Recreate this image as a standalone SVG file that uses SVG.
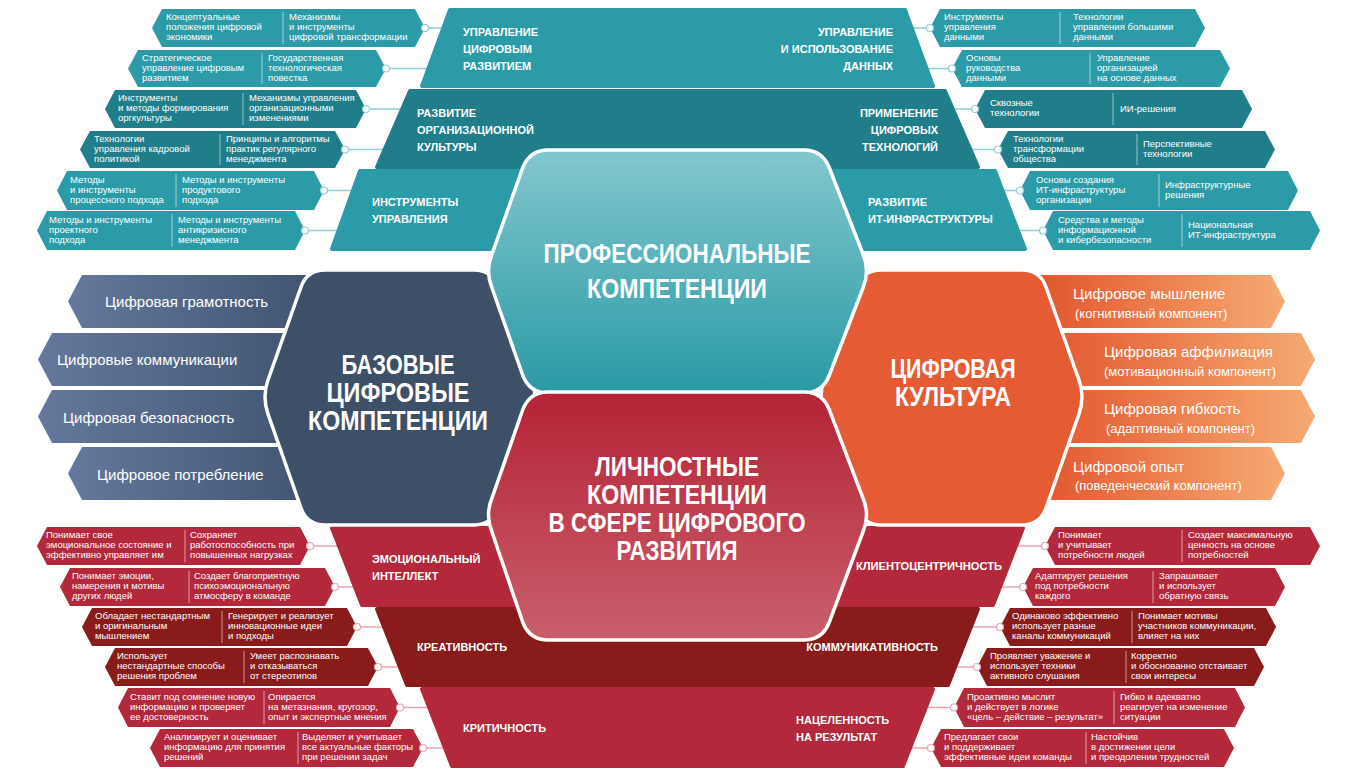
<svg xmlns="http://www.w3.org/2000/svg" width="1360" height="784" viewBox="0 0 1360 784">
<defs>
<linearGradient id="gTop" x1="0" y1="0" x2="0" y2="1"><stop offset="0" stop-color="#82c7ce"/><stop offset="1" stop-color="#2a9aa5"/></linearGradient>
<linearGradient id="gBot" x1="0" y1="0" x2="0" y2="1"><stop offset="0" stop-color="#b42335"/><stop offset="1" stop-color="#c95f6c"/></linearGradient>
<linearGradient id="gL" x1="0" y1="0" x2="1" y2="0"><stop offset="0" stop-color="#64799b"/><stop offset="1" stop-color="#3e5170"/></linearGradient>
<linearGradient id="gR" x1="0" y1="0" x2="1" y2="0"><stop offset="0" stop-color="#e2532b"/><stop offset="1" stop-color="#f6aa72"/></linearGradient>
<style>
.t1{fill:#2b9ba7}.t2{fill:#1f7e8a}.r1{fill:#b3283a}.r2{fill:#8a1b1b}
.dv{stroke:#ffffff;stroke-opacity:.55;stroke-width:1}
.lf{font-family:"Liberation Sans",Arial,sans-serif;font-size:9.5px;fill:#fff}
.cat{font-family:"Liberation Sans",Arial,sans-serif;font-size:11px;font-weight:bold;fill:#fff}
.big{font-family:"Liberation Sans",Arial,sans-serif;font-size:27px;font-weight:bold;fill:#fff;text-anchor:middle}
.side{font-family:"Liberation Sans",Arial,sans-serif;font-size:15px;fill:#fff}
.sub{font-family:"Liberation Sans",Arial,sans-serif;font-size:13px;fill:#fff}
.ct{stroke:#8fcfd5;stroke-width:1.5}.cr{stroke:#eaa3b2;stroke-width:1.5}
.ctc{fill:#fff;stroke:#8fcfd5;stroke-width:1.2}.crc{fill:#fff;stroke:#eaa3b2;stroke-width:1.2}
.bar{stroke-linejoin:round;stroke-width:4}
.hex{stroke:#fff;stroke-width:3.5}
</style>
</defs>
<rect width="1360" height="784" fill="#fff"/>
<g id="connectors">
<line class="ct" x1="425" y1="28" x2="460" y2="28"/><line class="ct" x1="386" y1="68.5" x2="440" y2="68.5"/>
<line class="ct" x1="366" y1="109" x2="420" y2="109"/><line class="ct" x1="345" y1="149.5" x2="400" y2="149.5"/>
<line class="ct" x1="324" y1="190.5" x2="370" y2="190.5"/><line class="ct" x1="305" y1="230.5" x2="355" y2="230.5"/>
<line class="ct" x1="930" y1="28" x2="895" y2="28"/><line class="ct" x1="952" y1="68.5" x2="910" y2="68.5"/>
<line class="ct" x1="975" y1="109" x2="930" y2="109"/><line class="ct" x1="998" y1="149.5" x2="950" y2="149.5"/>
<line class="ct" x1="1020" y1="190.5" x2="975" y2="190.5"/><line class="ct" x1="1043" y1="230.5" x2="1000" y2="230.5"/>
<line class="cr" x1="310" y1="546" x2="350" y2="546"/><line class="cr" x1="335" y1="587" x2="380" y2="587"/>
<line class="cr" x1="357" y1="627" x2="400" y2="627"/><line class="cr" x1="378" y1="667" x2="420" y2="667"/>
<line class="cr" x1="400" y1="707.5" x2="440" y2="707.5"/><line class="cr" x1="423" y1="748" x2="460" y2="748"/>
<line class="cr" x1="1045" y1="546" x2="1010" y2="546"/><line class="cr" x1="1023" y1="587" x2="985" y2="587"/>
<line class="cr" x1="1000" y1="627" x2="960" y2="627"/><line class="cr" x1="977" y1="667" x2="940" y2="667"/>
<line class="cr" x1="954" y1="707.5" x2="915" y2="707.5"/><line class="cr" x1="931" y1="748" x2="895" y2="748"/>
</g>
<g id="bars">
<polygon class="t1 bar" stroke="#2b9ba7" points="450,10 905,10 933,86 422,86"/>
<polygon class="t2 bar" stroke="#1f7e8a" points="410,91 945,91 978,167 377,167"/>
<polygon class="t1 bar" stroke="#2b9ba7" points="360,171 995,171 1025,249 332,249"/>
<polygon class="r1 bar" stroke="#b3283a" points="332,528 1023,528 993,605 362,605"/>
<polygon class="r2 bar" stroke="#8a1b1b" points="377,609 978,609 948,685 407,685"/>
<polygon class="r1 bar" stroke="#b3283a" points="422,689 933,689 903,766 452,766"/>
</g>
<g id="bar-labels">
<text class="cat"><tspan x="463" y="36">УПРАВЛЕНИЕ</tspan><tspan x="463" y="53">ЦИФРОВЫМ</tspan><tspan x="463" y="70">РАЗВИТИЕМ</tspan></text>
<text class="cat" text-anchor="end"><tspan x="893" y="36">УПРАВЛЕНИЕ</tspan><tspan x="893" y="53">И ИСПОЛЬЗОВАНИЕ</tspan><tspan x="893" y="70">ДАННЫХ</tspan></text>
<text class="cat"><tspan x="417" y="117">РАЗВИТИЕ</tspan><tspan x="417" y="134">ОРГАНИЗАЦИОННОЙ</tspan><tspan x="417" y="151">КУЛЬТУРЫ</tspan></text>
<text class="cat" text-anchor="end"><tspan x="938" y="117">ПРИМЕНЕНИЕ</tspan><tspan x="938" y="134">ЦИФРОВЫХ</tspan><tspan x="938" y="151">ТЕХНОЛОГИЙ</tspan></text>
<text class="cat"><tspan x="372" y="206">ИНСТРУМЕНТЫ</tspan><tspan x="372" y="223">УПРАВЛЕНИЯ</tspan></text>
<text class="cat"><tspan x="868" y="206">РАЗВИТИЕ</tspan><tspan x="868" y="223">ИТ-ИНФРАСТРУКТУРЫ</tspan></text>
<text class="cat"><tspan x="372" y="563">ЭМОЦИОНАЛЬНЫЙ</tspan><tspan x="372" y="580">ИНТЕЛЛЕКТ</tspan></text>
<text class="cat" x="856" y="570" textLength="146" lengthAdjust="spacingAndGlyphs">КЛИЕНТОЦЕНТРИЧНОСТЬ</text>
<text class="cat" x="417" y="651">КРЕАТИВНОСТЬ</text>
<text class="cat" x="938" y="651" text-anchor="end">КОММУНИКАТИВНОСТЬ</text>
<text class="cat" x="463" y="732">КРИТИЧНОСТЬ</text>
<text class="cat"><tspan x="796" y="724">НАЦЕЛЕННОСТЬ</tspan><tspan x="796" y="741">НА РЕЗУЛЬТАТ</tspan></text>
</g>
<g id="tl1"><path class="t1" d="M152 28L162 9L415 9L425 28L415 47L162 47Z"/><line class="dv" x1="283" y1="12" x2="283" y2="44"/>
<text class="lf"><tspan x="166" y="20">Концептуальные</tspan><tspan x="166" y="30">положения цифровой</tspan><tspan x="166" y="40">экономики</tspan></text>
<text class="lf"><tspan x="289" y="20">Механизмы</tspan><tspan x="289" y="30">и инструменты</tspan><tspan x="289" y="40">цифровой трансформации</tspan></text></g>
<g id="tl2"><path class="t1" d="M128 68.5L138 50L376 50L386 68.5L376 87L138 87Z"/><line class="dv" x1="262" y1="53" x2="262" y2="84"/>
<text class="lf"><tspan x="142" y="60.5">Стратегическое</tspan><tspan x="142" y="70.5">управление цифровым</tspan><tspan x="142" y="80.5">развитием</tspan></text>
<text class="lf"><tspan x="268" y="60.5">Государственная</tspan><tspan x="268" y="70.5">технологическая</tspan><tspan x="268" y="80.5">повестка</tspan></text></g>
<g id="tl3"><path class="t2" d="M105 109L115 90L356 90L366 109L356 128L115 128Z"/><line class="dv" x1="243" y1="93" x2="243" y2="125"/>
<text class="lf"><tspan x="118" y="101">Инструменты</tspan><tspan x="118" y="111">и методы  формирования</tspan><tspan x="118" y="121">оргкультуры</tspan></text>
<text class="lf"><tspan x="249" y="101">Механизмы управления</tspan><tspan x="249" y="111">организационными</tspan><tspan x="249" y="121">изменениями</tspan></text></g>
<g id="tl4"><path class="t2" d="M80 149.5L90 131L335 131L345 149.5L335 168L90 168Z"/><line class="dv" x1="220" y1="134" x2="220" y2="165"/>
<text class="lf"><tspan x="94" y="141.5">Технологии</tspan><tspan x="94" y="151.5">управления кадровой</tspan><tspan x="94" y="161.5">политикой</tspan></text>
<text class="lf"><tspan x="226" y="141.5">Принципы и алгоритмы</tspan><tspan x="226" y="151.5">практик регулярного</tspan><tspan x="226" y="161.5">менеджмента</tspan></text></g>
<g id="tl5"><path class="t1" d="M57 190.5L67 171L314 171L324 190.5L314 210L67 210Z"/><line class="dv" x1="176" y1="174" x2="176" y2="207"/>
<text class="lf"><tspan x="70" y="182.5">Методы</tspan><tspan x="70" y="192.5">и инструменты</tspan><tspan x="70" y="202.5">процессного подхода</tspan></text>
<text class="lf"><tspan x="182" y="182.5">Методы и инструменты</tspan><tspan x="182" y="192.5">продуктового</tspan><tspan x="182" y="202.5">подхода</tspan></text></g>
<g id="tl6"><path class="t1" d="M37 230.5L47 211L295 211L305 230.5L295 250L47 250Z"/><line class="dv" x1="172" y1="214" x2="172" y2="247"/>
<text class="lf"><tspan x="49" y="222.5">Методы и инструменты</tspan><tspan x="49" y="232.5">проектного</tspan><tspan x="49" y="242.5">подхода</tspan></text>
<text class="lf"><tspan x="178" y="222.5">Методы и инструменты</tspan><tspan x="178" y="232.5">антикризисного</tspan><tspan x="178" y="242.5">менеджмента</tspan></text></g>
<g id="tr1"><path class="t1" d="M930 28L940 9L1195 9L1205 28L1195 47L940 47Z"/><line class="dv" x1="1060" y1="12" x2="1060" y2="44"/>
<text class="lf"><tspan x="944" y="20">Инструменты</tspan><tspan x="944" y="30">управления</tspan><tspan x="944" y="40">данными</tspan></text>
<text class="lf"><tspan x="1073" y="20">Технологии</tspan><tspan x="1073" y="30">управления большими</tspan><tspan x="1073" y="40">данными</tspan></text></g>
<g id="tr2"><path class="t1" d="M952 68.5L962 50L1220 50L1230 68.5L1220 87L962 87Z"/><line class="dv" x1="1090" y1="53" x2="1090" y2="84"/>
<text class="lf"><tspan x="966" y="60.5">Основы</tspan><tspan x="966" y="70.5">руководства</tspan><tspan x="966" y="80.5">данными</tspan></text>
<text class="lf"><tspan x="1097" y="60.5">Управление</tspan><tspan x="1097" y="70.5">организацией</tspan><tspan x="1097" y="80.5">на основе данных</tspan></text></g>
<g id="tr3"><path class="t2" d="M975 109L985 90L1242 90L1252 109L1242 128L985 128Z"/><line class="dv" x1="1113" y1="93" x2="1113" y2="125"/>
<text class="lf"><tspan x="990" y="106">Сквозные</tspan><tspan x="990" y="116">технологии</tspan></text>
<text class="lf" x="1120" y="112">ИИ-решения</text></g>
<g id="tr4"><path class="t2" d="M998 149.5L1008 131L1265 131L1275 149.5L1265 168L1008 168Z"/><line class="dv" x1="1137" y1="134" x2="1137" y2="165"/>
<text class="lf"><tspan x="1013" y="141.5">Технологии</tspan><tspan x="1013" y="151.5">трансформации</tspan><tspan x="1013" y="161.5">общества</tspan></text>
<text class="lf"><tspan x="1143" y="146.5">Перспективные</tspan><tspan x="1143" y="156.5">технологии</tspan></text></g>
<g id="tr5"><path class="t1" d="M1020 190.5L1030 171L1288 171L1298 190.5L1288 210L1030 210Z"/><line class="dv" x1="1159" y1="174" x2="1159" y2="207"/>
<text class="lf"><tspan x="1036" y="182.5">Основы создания</tspan><tspan x="1036" y="192.5">ИТ-инфраструктуры</tspan><tspan x="1036" y="202.5">организации</tspan></text>
<text class="lf"><tspan x="1165" y="187.5">Инфраструктурные</tspan><tspan x="1165" y="197.5">решения</tspan></text></g>
<g id="tr6"><path class="t1" d="M1043 230.5L1053 211L1310 211L1320 230.5L1310 250L1053 250Z"/><line class="dv" x1="1182" y1="214" x2="1182" y2="247"/>
<text class="lf"><tspan x="1058" y="222.5">Средства и методы</tspan><tspan x="1058" y="232.5">информационной</tspan><tspan x="1058" y="242.5">и кибербезопасности</tspan></text>
<text class="lf"><tspan x="1188" y="227.5">Национальная</tspan><tspan x="1188" y="237.5">ИТ-инфраструктура</tspan></text></g>
<g id="bl1"><path class="r1" d="M37 546L47 527L300 527L310 546L300 565L47 565Z"/><line class="dv" x1="185" y1="530" x2="185" y2="562"/>
<text class="lf"><tspan x="46" y="538">Понимает свое</tspan><tspan x="46" y="548">эмоциональное состояние и</tspan><tspan x="46" y="558">эффективно управляет им</tspan></text>
<text class="lf"><tspan x="190" y="538">Сохраняет</tspan><tspan x="190" y="548">работоспособность при</tspan><tspan x="190" y="558">повышенных нагрузках</tspan></text></g>
<g id="bl2"><path class="r1" d="M60 587L70 568L325 568L335 587L325 606L70 606Z"/><line class="dv" x1="189" y1="571" x2="189" y2="603"/>
<text class="lf"><tspan x="72" y="579">Понимает эмоции,</tspan><tspan x="72" y="589">намерения и мотивы</tspan><tspan x="72" y="599">других людей</tspan></text>
<text class="lf"><tspan x="194" y="579">Создает благоприятную</tspan><tspan x="194" y="589">психоэмоциональную</tspan><tspan x="194" y="599">атмосферу в команде</tspan></text></g>
<g id="bl3"><path class="r2" d="M82 627L92 608L347 608L357 627L347 646L92 646Z"/><line class="dv" x1="222" y1="611" x2="222" y2="643"/>
<text class="lf"><tspan x="95" y="619">Обладает нестандартным</tspan><tspan x="95" y="629">и оригинальным</tspan><tspan x="95" y="639">мышлением</tspan></text>
<text class="lf"><tspan x="228" y="619">Генерирует и реализует</tspan><tspan x="228" y="629">инновационные идеи</tspan><tspan x="228" y="639">и подходы</tspan></text></g>
<g id="bl4"><path class="r2" d="M105 667L115 648L368 648L378 667L368 686L115 686Z"/><line class="dv" x1="244" y1="651" x2="244" y2="683"/>
<text class="lf"><tspan x="117" y="659">Использует</tspan><tspan x="117" y="669">нестандартные способы</tspan><tspan x="117" y="679">решения проблем</tspan></text>
<text class="lf"><tspan x="250" y="659">Умеет распознавать</tspan><tspan x="250" y="669">и отказываться</tspan><tspan x="250" y="679">от стереотипов</tspan></text></g>
<g id="bl5"><path class="r1" d="M118 707.5L128 688L390 688L400 707.5L390 727L128 727Z"/><line class="dv" x1="264" y1="691" x2="264" y2="724"/>
<text class="lf"><tspan x="130" y="699.5">Ставит под сомнение новую</tspan><tspan x="130" y="709.5">информацию и проверяет</tspan><tspan x="130" y="719.5">ее достоверность</tspan></text>
<text class="lf"><tspan x="268" y="699.5">Опирается</tspan><tspan x="268" y="709.5">на метазнания, кругозор,</tspan><tspan x="268" y="719.5">опыт и экспертные мнения</tspan></text></g>
<g id="bl6"><path class="r1" d="M150 748L160 729L413 729L423 748L413 767L160 767Z"/><line class="dv" x1="298" y1="732" x2="298" y2="764"/>
<text class="lf"><tspan x="164" y="740">Анализирует и оценивает</tspan><tspan x="164" y="750">информацию для принятия</tspan><tspan x="164" y="760">решений</tspan></text>
<text class="lf"><tspan x="302" y="740">Выделяет и учитывает</tspan><tspan x="302" y="750">все актуальные факторы</tspan><tspan x="302" y="760">при решении задач</tspan></text></g>
<g id="br1"><path class="r1" d="M1045 546L1055 527L1310 527L1320 546L1310 565L1055 565Z"/><line class="dv" x1="1182" y1="530" x2="1182" y2="562"/>
<text class="lf"><tspan x="1058" y="538">Понимает</tspan><tspan x="1058" y="548">и учитывает</tspan><tspan x="1058" y="558">потребности людей</tspan></text>
<text class="lf"><tspan x="1188" y="538">Создает максимальную</tspan><tspan x="1188" y="548">ценность на основе</tspan><tspan x="1188" y="558">потребностей</tspan></text></g>
<g id="br2"><path class="r1" d="M1023 587L1033 568L1275 568L1285 587L1275 606L1033 606Z"/><line class="dv" x1="1153" y1="571" x2="1153" y2="603"/>
<text class="lf"><tspan x="1035" y="579">Адаптирует решения</tspan><tspan x="1035" y="589">под потребности</tspan><tspan x="1035" y="599">каждого</tspan></text>
<text class="lf"><tspan x="1159" y="579">Запрашивает</tspan><tspan x="1159" y="589">и использует</tspan><tspan x="1159" y="599">обратную связь</tspan></text></g>
<g id="br3"><path class="r2" d="M1000 627L1010 608L1266 608L1276 627L1266 646L1010 646Z"/><line class="dv" x1="1132" y1="611" x2="1132" y2="643"/>
<text class="lf"><tspan x="1012" y="619">Одинаково эффективно</tspan><tspan x="1012" y="629">использует разные</tspan><tspan x="1012" y="639">каналы коммуникаций</tspan></text>
<text class="lf"><tspan x="1138" y="619">Понимает мотивы</tspan><tspan x="1138" y="629">участников коммуникации,</tspan><tspan x="1138" y="639">влияет на них</tspan></text></g>
<g id="br4"><path class="r2" d="M977 667L987 648L1254 648L1264 667L1254 686L987 686Z"/><line class="dv" x1="1126" y1="651" x2="1126" y2="683"/>
<text class="lf"><tspan x="990" y="659">Проявляет уважение и</tspan><tspan x="990" y="669">использует техники</tspan><tspan x="990" y="679">активного слушания</tspan></text>
<text class="lf"><tspan x="1131" y="659">Корректно</tspan><tspan x="1131" y="669">и обоснованно отстаивает</tspan><tspan x="1131" y="679">свои интересы</tspan></text></g>
<g id="br5"><path class="r1" d="M954 707.5L964 688L1235 688L1245 707.5L1235 727L964 727Z"/><line class="dv" x1="1114" y1="691" x2="1114" y2="724"/>
<text class="lf"><tspan x="967" y="699.5">Проактивно мыслит</tspan><tspan x="967" y="709.5">и действует в логике</tspan><tspan x="967" y="719.5">«цель – действие – результат»</tspan></text>
<text class="lf"><tspan x="1120" y="699.5">Гибко и адекватно</tspan><tspan x="1120" y="709.5">реагирует на изменение</tspan><tspan x="1120" y="719.5">ситуации</tspan></text></g>
<g id="br6"><path class="r1" d="M931 748L941 729L1224 729L1234 748L1224 767L941 767Z"/><line class="dv" x1="1086" y1="732" x2="1086" y2="764"/>
<text class="lf"><tspan x="944" y="740">Предлагает свои</tspan><tspan x="944" y="750">и поддерживает</tspan><tspan x="944" y="760">эффективные идеи команды</tspan></text>
<text class="lf"><tspan x="1091" y="740">Настойчив</tspan><tspan x="1091" y="750">в достижении цели</tspan><tspan x="1091" y="760">и преодолении трудностей</tspan></text></g>
<g id="connector-dots">
<circle class="ctc" cx="425" cy="28" r="3.5"/><circle class="ctc" cx="386" cy="68.5" r="3.5"/><circle class="ctc" cx="366" cy="109" r="3.5"/>
<circle class="ctc" cx="345" cy="149.5" r="3.5"/><circle class="ctc" cx="324" cy="190.5" r="3.5"/><circle class="ctc" cx="305" cy="230.5" r="3.5"/>
<circle class="ctc" cx="930" cy="28" r="3.5"/><circle class="ctc" cx="952" cy="68.5" r="3.5"/><circle class="ctc" cx="975" cy="109" r="3.5"/>
<circle class="ctc" cx="998" cy="149.5" r="3.5"/><circle class="ctc" cx="1020" cy="190.5" r="3.5"/><circle class="ctc" cx="1043" cy="230.5" r="3.5"/>
<circle class="crc" cx="310" cy="546" r="3.5"/><circle class="crc" cx="335" cy="587" r="3.5"/><circle class="crc" cx="357" cy="627" r="3.5"/>
<circle class="crc" cx="378" cy="667" r="3.5"/><circle class="crc" cx="400" cy="707.5" r="3.5"/><circle class="crc" cx="423" cy="748" r="3.5"/>
<circle class="crc" cx="1045" cy="546" r="3.5"/><circle class="crc" cx="1023" cy="587" r="3.5"/><circle class="crc" cx="1000" cy="627" r="3.5"/>
<circle class="crc" cx="977" cy="667" r="3.5"/><circle class="crc" cx="954" cy="707.5" r="3.5"/><circle class="crc" cx="931" cy="748" r="3.5"/>
</g>
<g id="base-list">
<path fill="url(#gL)" d="M68 301.5L82 275L330 275L330 328L82 328Z"/>
<path fill="url(#gL)" d="M38 359.5L52 333L330 333L330 386L52 386Z"/>
<path fill="url(#gL)" d="M38 416.5L52 390L330 390L330 443L52 443Z"/>
<path fill="url(#gL)" d="M68 473.5L82 447L330 447L330 500L82 500Z"/>
<text class="side" x="105" y="307">Цифровая грамотность</text>
<text class="side" x="57" y="365">Цифровые коммуникации</text>
<text class="side" x="63" y="423">Цифровая безопасность</text>
<text class="side" x="97" y="480">Цифровое потребление</text>
</g>
<g id="culture-list">
<path fill="url(#gR)" d="M1030 275L1271 275L1285 301.5L1271 328L1030 328Z"/>
<path fill="url(#gR)" d="M1030 333L1301 333L1315 359.5L1301 386L1030 386Z"/>
<path fill="url(#gR)" d="M1030 390L1301 390L1315 416.5L1301 443L1030 443Z"/>
<path fill="url(#gR)" d="M1030 447L1271 447L1285 473.5L1271 500L1030 500Z"/>
<text class="side" x="1073" y="299">Цифровое мышление</text><text class="sub" x="1075" y="318">(когнитивный компонент)</text>
<text class="side" x="1104" y="357">Цифровая аффилиация</text><text class="sub" x="1104" y="376">(мотивационный компонент)</text>
<text class="side" x="1104" y="414">Цифровая гибкость</text><text class="sub" x="1106" y="433">(адаптивный компонент)</text>
<text class="side" x="1073" y="472">Цифровой опыт</text><text class="sub" x="1075" y="490">(поведенческий компонент)</text>
</g>
<g id="hex-base"><path class="hex" fill="#3e5068" d="M325 270L474 270Q492 270 498 287L532 380Q538 397 532 414L498 508Q492 525 474 525L325 525Q307 525 301 508L268 414Q262 397 268 380L301 287Q307 270 325 270Z"/>
<text class="big" x="398" y="374" textLength="113" lengthAdjust="spacingAndGlyphs">БАЗОВЫЕ</text>
<text class="big" x="398" y="402" textLength="143" lengthAdjust="spacingAndGlyphs">ЦИФРОВЫЕ</text>
<text class="big" x="398" y="430" textLength="180" lengthAdjust="spacingAndGlyphs">КОМПЕТЕНЦИИ</text></g>
<g id="hex-culture"><path class="hex" fill="#e55b34" d="M881 270L1022 270Q1040 270 1046 287L1079 380Q1085 397 1079 414L1046 508Q1040 525 1022 525L881 525Q863 525 857 508L824 414Q818 397 824 380L857 287Q863 270 881 270Z"/>
<text class="big" x="953" y="378" textLength="125" lengthAdjust="spacingAndGlyphs">ЦИФРОВАЯ</text>
<text class="big" x="953" y="406" textLength="116" lengthAdjust="spacingAndGlyphs">КУЛЬТУРА</text></g>
<g id="hex-prof"><path class="hex" fill="url(#gTop)" d="M548 150L804 150Q822 150 829 167L863 254Q870 271 863 288L829 376Q822 393 804 393L548 393Q530 393 523 376L492 288Q485 271 492 254L523 167Q530 150 548 150Z"/>
<text class="big" x="677" y="263" textLength="267" lengthAdjust="spacingAndGlyphs">ПРОФЕССИОНАЛЬНЫЕ</text>
<text class="big" x="677" y="298" textLength="180" lengthAdjust="spacingAndGlyphs">КОМПЕТЕНЦИИ</text></g>
<g id="hex-pers"><path class="hex" fill="url(#gBot)" d="M548 392L804 392Q822 392 829 409L863 498Q870 515 863 532L829 623Q822 640 804 640L548 640Q530 640 523 623L492 532Q485 515 492 498L523 409Q530 392 548 392Z"/>
<text class="big" x="677" y="476" textLength="164" lengthAdjust="spacingAndGlyphs">ЛИЧНОСТНЫЕ</text>
<text class="big" x="677" y="504" textLength="180" lengthAdjust="spacingAndGlyphs">КОМПЕТЕНЦИИ</text>
<text class="big" x="677" y="532" textLength="257" lengthAdjust="spacingAndGlyphs">В СФЕРЕ ЦИФРОВОГО</text>
<text class="big" x="677" y="560" textLength="121" lengthAdjust="spacingAndGlyphs">РАЗВИТИЯ</text></g>
</svg>
